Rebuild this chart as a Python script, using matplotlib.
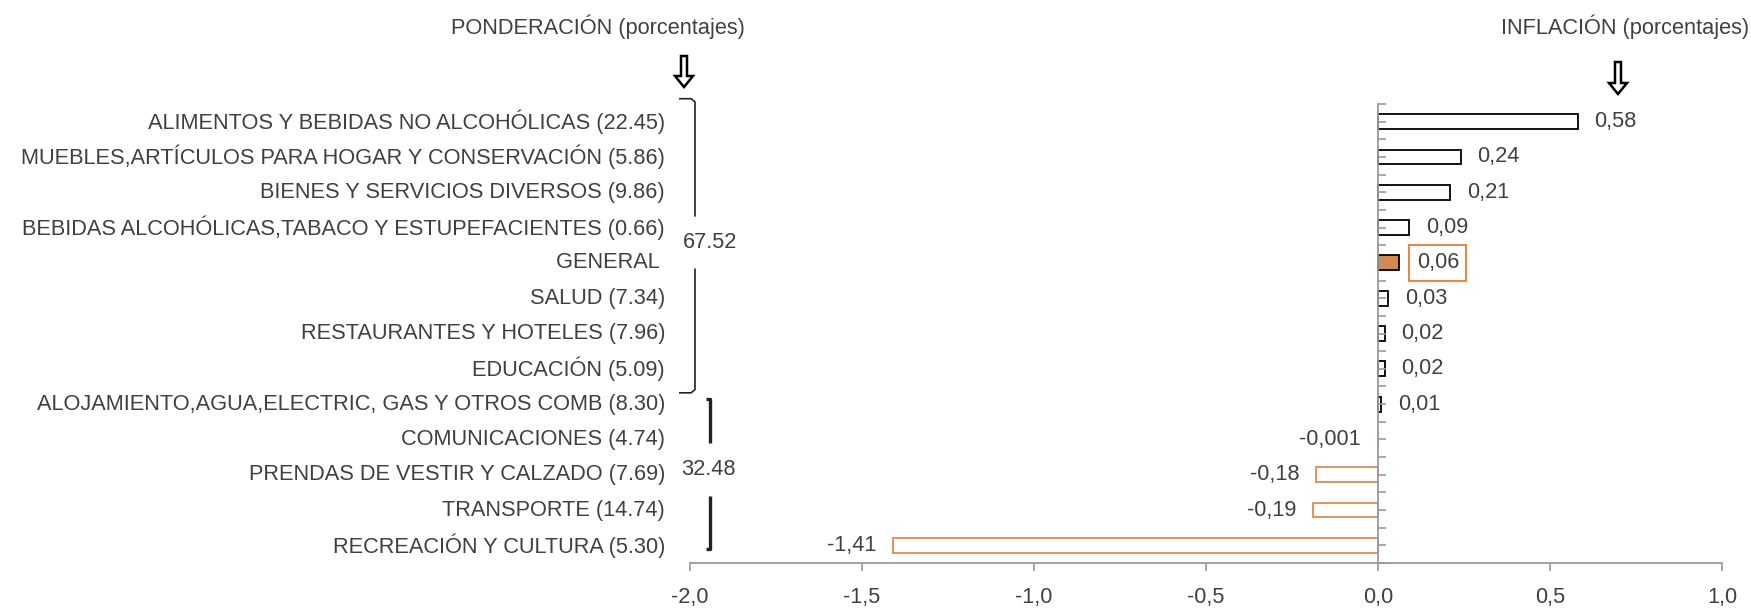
import numpy as np
import matplotlib.pyplot as plt
from matplotlib import transforms
from matplotlib.patches import Polygon
from matplotlib.lines import Line2D

## Datos
categorias = ["ALIMENTOS Y BEBIDAS NO ALCOHÓLICAS",
              "MUEBLES,ARTÍCULOS PARA HOGAR Y CONSERVACIÓN",
              "BIENES Y SERVICIOS DIVERSOS",
              "BEBIDAS ALCOHÓLICAS,TABACO Y ESTUPEFACIENTES",
              "GENERAL",
              "SALUD",
              "RESTAURANTES Y HOTELES",
              "EDUCACIÓN",
              "ALOJAMIENTO,AGUA,ELECTRIC, GAS Y OTROS COMB",
              "COMUNICACIONES",
              "PRENDAS DE VESTIR Y CALZADO",
              "TRANSPORTE",
              "RECREACIÓN Y CULTURA"]
ponderacion = [22.45, 5.86, 9.86, 0.66, None, 7.34, 7.96, 5.09, 8.30, 4.74, 7.69, 14.74, 5.30]
inflacion = [0.58, 0.24, 0.21, 0.09, 0.06, 0.03, 0.02, 0.02, 0.01, -0.001, -0.18, -0.19, -1.41]
grupos = ["67.52", "32.48"]
xticks = [-2.0, -1.5, -1.0, -0.5, 0.0, 0.5, 1.0]

## Estilo
plt.rcParams['font.family'] = ['Liberation Sans', 'DejaVu Sans']
txt_color = '#404040'
gris = '#9a9a9a'
naranja = '#E08A4E'
relleno = '#D4894F'
fs = 15.7

W, H = 1751, 608
fig = plt.figure(figsize=(W / 100, H / 100), dpi=100)
ax = fig.add_axes([690 / W, 1 - 563 / H, (1722 - 690) / W, (563 - 104) / H])

n = len(categorias)
y = np.arange(n)
fill, edge = [], []
for c, v in zip(categorias, inflacion):
    if c == "GENERAL":
        fill.append(relleno); edge.append('black')
    elif v >= 0:
        fill.append('white'); edge.append('black')
    else:
        fill.append('white'); edge.append(naranja)
ax.barh(y, inflacion, height=0.42, color=fill, edgecolor=edge, linewidth=1.3)

ax.set_xlim(-2, 1)
ax.set_ylim(n - 0.5, -0.5)
ax.spines['top'].set_visible(False)
ax.spines['right'].set_visible(False)
ax.spines['left'].set_position(('data', 0))
ax.spines['left'].set_color(gris)
ax.spines['bottom'].set_color(gris)
ax.spines['left'].set_linewidth(1.3)
ax.spines['bottom'].set_linewidth(1.3)

ax.set_yticks(np.arange(-0.5, n, 1))
ax.set_yticks(y, minor=True)
ax.tick_params(axis='y', which='both', direction='in', length=6, color=gris,
               width=1.2, labelleft=False)
ax.set_xticks(xticks)
ax.set_xticklabels([f"{t:.1f}".replace('.', ',') for t in xticks])
ax.tick_params(axis='x', direction='out', length=6, color=gris, width=1.2,
               labelsize=fs, labelcolor=txt_color, pad=11)

# etiquetas de valor
for i, v in enumerate(inflacion):
    s = f"{v:.3f}" if abs(v) < 0.01 else f"{v:.2f}"
    s = s.replace('.', ',')
    off = 12 if v >= 0 else -12
    ha = 'left' if v >= 0 else 'right'
    if categorias[i] == "GENERAL":
        ax.annotate(s, (v, i), xytext=(off + 1, 0), textcoords='offset points',
                    ha=ha, va='center', fontsize=fs, color=txt_color,
                    bbox=dict(boxstyle='square,pad=0.33', fc='white', ec=naranja, lw=1.5))
    else:
        ax.annotate(s, (v, i), xytext=(off, 0), textcoords='offset points',
                    ha=ha, va='center', fontsize=fs, color=txt_color)

# categorias con ponderacion
trans = transforms.blended_transform_factory(fig.transFigure, ax.transData)
for i, (c, w) in enumerate(zip(categorias, ponderacion)):
    lab = c + (f" ({w:.2f})" if w is not None else " ")
    ax.text(665 / W, i, lab, transform=trans, ha='right', va='center',
            fontsize=fs, color=txt_color, clip_on=False)

# llaves de los grupos
def linea(xs, ys, lw):
    ax.add_line(Line2D([x / W for x in xs], ys, transform=trans, color='#222222',
                       lw=lw, clip_on=False, solid_capstyle='butt'))

linea([679, 691, 695, 695], [-0.65, -0.65, -0.56, 2.69], 1.2)
linea([695, 695, 691, 679], [4.16, 7.59, 7.68, 7.68], 1.2)
linea([706, 710, 710], [7.85, 7.85, 9.09], 2.4)
linea([710, 710, 706], [10.6, 12.1, 12.1], 2.4)
ax.text(710 / W, 3.43, grupos[0], transform=trans, ha='center', va='center',
        fontsize=fs, color=txt_color)
ax.text(708 / W, 9.86, grupos[1], transform=trans, ha='center', va='center',
        fontsize=fs, color=txt_color)

# encabezados
fig.text(745 / W, 1 - 27 / H, "PONDERACIÓN (porcentajes)", ha='right', va='center',
         fontsize=fs, color=txt_color)
fig.text(1749 / W, 1 - 27 / H, "INFLACIÓN (porcentajes)", ha='right', va='center',
         fontsize=fs, color=txt_color)

def flecha(cx, top, bot):
    pts = [(cx - 3, top), (cx + 3, top), (cx + 3, bot - 11), (cx + 9, bot - 11),
           (cx, bot), (cx - 9, bot - 11), (cx - 3, bot - 11)]
    fig.patches.append(Polygon([(px / W, 1 - py / H) for px, py in pts], closed=True,
                               transform=fig.transFigure, fc='white', ec='black', lw=1.8))

flecha(684, 56, 87)
flecha(1618, 62, 94)

fig.savefig('out.png', dpi=100)
